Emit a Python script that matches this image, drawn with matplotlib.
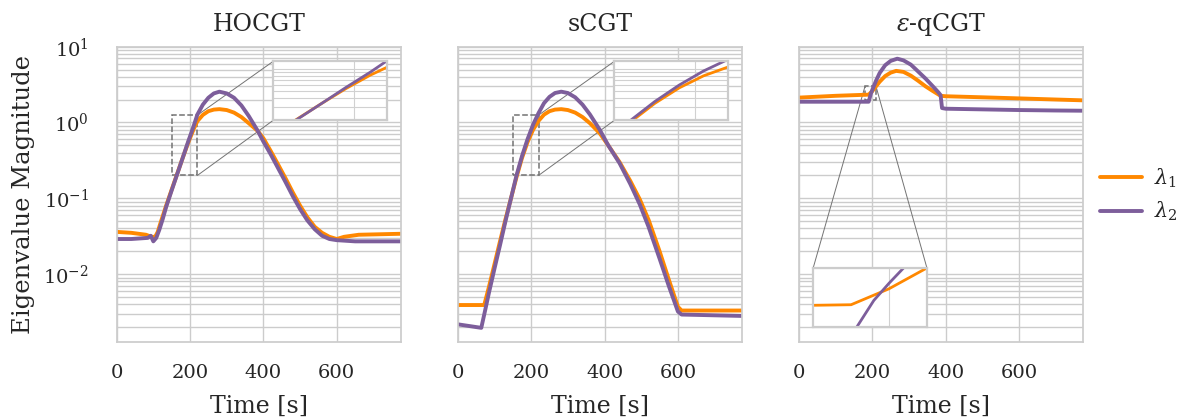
import matplotlib
matplotlib.use("Agg")
import matplotlib.pyplot as plt
import seaborn as sns
from matplotlib.transforms import TransformedBbox
from mpl_toolkits.axes_grid1.inset_locator import BboxPatch, BboxConnector

# HOCGT
t1_hocgt = [0, 40, 80, 95, 105, 112, 120, 135, 150, 165, 180, 195, 210, 220, 235, 250, 265, 280, 300, 320,
            340, 360, 385, 400, 420, 440, 460, 480, 500, 520, 540, 560, 580, 600, 620, 660, 775]
l1_hocgt = [0.036, 0.035, 0.033, 0.031, 0.031, 0.036, 0.048, 0.080, 0.13, 0.21, 0.34, 0.54, 0.82, 1.04, 1.26,
            1.41, 1.48, 1.50, 1.46, 1.35, 1.18, 0.98, 0.77, 0.62, 0.42, 0.28, 0.185, 0.12, 0.08, 0.056, 0.042,
            0.035, 0.031, 0.029, 0.031, 0.033, 0.034]
t2_hocgt = [0, 40, 85, 93, 100, 108, 116, 125, 135, 150, 165, 180, 195, 210, 220, 235, 250, 265, 280, 300,
            320, 340, 360, 385, 400, 420, 440, 460, 480, 500, 520, 540, 560, 580, 600, 650, 775]
l2_hocgt = [0.029, 0.029, 0.030, 0.032, 0.027, 0.030, 0.038, 0.052, 0.077, 0.127, 0.208, 0.34, 0.56, 0.90,
            1.27, 1.72, 2.12, 2.42, 2.55, 2.42, 2.12, 1.68, 1.22, 0.77, 0.56, 0.38, 0.25, 0.165, 0.107, 0.072,
            0.051, 0.039, 0.032, 0.029, 0.028, 0.027, 0.027]

# sCGT
t1_scgt = [0, 72, 85, 100, 115, 130, 145, 160, 175, 190, 205, 220, 235, 250, 265, 282, 300, 320, 340, 360,
           387, 410, 441, 470, 496, 520, 550, 575, 600, 610, 775]
l1_scgt = [0.0039, 0.0039, 0.0068, 0.0135, 0.027, 0.053, 0.10, 0.19, 0.34, 0.55, 0.80, 1.05, 1.27, 1.41,
           1.48, 1.50, 1.46, 1.35, 1.18, 0.98, 0.72, 0.50, 0.30, 0.17, 0.097, 0.052, 0.020, 0.0085, 0.0037,
           0.0033, 0.0033]
t2_scgt = [0, 64, 75, 85, 100, 115, 130, 145, 160, 175, 190, 205, 220, 235, 250, 265, 282, 300, 320, 340,
           360, 387, 410, 441, 470, 496, 520, 550, 575, 600, 610, 775]
l2_scgt = [0.00217, 0.00195, 0.0034, 0.0057, 0.0118, 0.024, 0.050, 0.10, 0.20, 0.36, 0.60, 0.93, 1.33, 1.80,
           2.18, 2.45, 2.55, 2.45, 2.15, 1.72, 1.28, 0.80, 0.50, 0.29, 0.155, 0.083, 0.042, 0.0160, 0.0070,
           0.0032, 0.00292, 0.0028]

# eps-qCGT
t1_eq = [0, 100, 190, 200, 210, 220, 235, 250, 265, 285, 305, 325, 345, 365, 386, 400, 500, 600, 700, 775]
l1_eq = [2.13, 2.25, 2.33, 2.6, 3.0, 3.45, 4.1, 4.55, 4.8, 4.65, 4.15, 3.55, 3.0, 2.6, 2.25, 2.22, 2.15,
         2.08, 2.01, 1.96]
t2_eq = [0, 190, 196, 200, 210, 220, 235, 250, 268, 285, 305, 325, 345, 365, 380, 386, 390, 400, 500, 600,
         700, 775]
l2_eq = [1.88, 1.88, 2.4, 2.7, 3.55, 4.5, 5.7, 6.5, 6.95, 6.6, 5.8, 4.7, 3.8, 3.0, 2.5, 2.3, 1.55, 1.52,
         1.49, 1.46, 1.44, 1.43]

titles = ["HOCGT", "sCGT", r"$\varepsilon$-qCGT"]
legend_labels = [r"$\lambda_1$", r"$\lambda_2$"]
orange = "#ff8800"
purple = "#7d5e9b"

sns.set_theme(style="whitegrid")
plt.rcParams["font.family"] = ["DejaVu Serif"]
plt.rcParams["mathtext.fontset"] = "dejavuserif"


def add_inset(ax, series, bounds, xlim, ylim, corners):
    axins = ax.inset_axes(bounds)
    for t, v, c in series:
        axins.plot(t, v, color=c, lw=2)
    axins.set_yscale("log")
    axins.set_xlim(xlim)
    axins.set_ylim(ylim)
    axins.set_xticks([200])
    axins.tick_params(which="both", labelbottom=False, labelleft=False, length=0)
    axins.grid(True, which="both", color=".82", lw=0.8)
    for s in axins.spines.values():
        s.set_edgecolor(".8")
        s.set_linewidth(1.6)
    rect = TransformedBbox(axins.viewLim, ax.transData)
    box = BboxPatch(rect, fill=False, ec="0.45", ls="--", lw=1.1)
    ax.add_patch(box)
    for a, b in corners:
        con = BboxConnector(axins.bbox, rect, loc1=a, loc2=b, ec="0.45", lw=0.7)
        con.set_clip_on(False)
        ax.add_patch(con)


fig, axes = plt.subplots(1, 3, figsize=(11.83, 4.19), dpi=100, sharey=True)
fig.subplots_adjust(left=0.0986, right=0.9157, top=0.8885, bottom=0.1845, wspace=0.2)

data = [
    [(t1_hocgt, l1_hocgt, orange), (t2_hocgt, l2_hocgt, purple)],
    [(t1_scgt, l1_scgt, orange), (t2_scgt, l2_scgt, purple)],
    [(t1_eq, l1_eq, orange), (t2_eq, l2_eq, purple)],
]

for ax, series, title in zip(axes, data, titles):
    for t, v, c in series:
        ax.plot(t, v, color=c, lw=2.8)
    ax.set_yscale("log")
    ax.set_xlim(0, 775)
    ax.set_ylim(1.28e-3, 10)
    ax.set_xticks([0, 200, 400, 600])
    ax.grid(True, which="major", color=".8", lw=1)
    ax.yaxis.grid(True, which="minor", color=".8", lw=1)
    ax.tick_params(which="both", length=0, labelsize=14)
    ax.tick_params(axis="x", pad=16)
    ax.tick_params(axis="y", pad=20)
    ax.set_title(title, fontsize=17, pad=11)
    ax.set_xlabel("Time [s]", fontsize=17, labelpad=9)

axes[0].set_ylabel("Eigenvalue Magnitude", fontsize=17.5, labelpad=6)

add_inset(axes[0], data[0], [0.55, 0.75, 0.4, 0.2], (150, 220), (0.2, 1.25), [(2, 1), (3, 4)])
add_inset(axes[1], data[1], [0.55, 0.75, 0.4, 0.2], (150, 220), (0.2, 1.25), [(2, 1), (3, 4)])
add_inset(axes[2], data[2], [0.05, 0.05, 0.4, 0.2], (180, 210), (2.0, 3.0), [(2, 2), (1, 1)])

handles = axes[0].get_lines()[:2]
fig.legend(handles, legend_labels, loc="center left", bbox_to_anchor=(0.914, 0.535), frameon=False,
           fontsize=15, handlelength=2.0, handletextpad=0.6)

fig.savefig("out.png", dpi=100)
